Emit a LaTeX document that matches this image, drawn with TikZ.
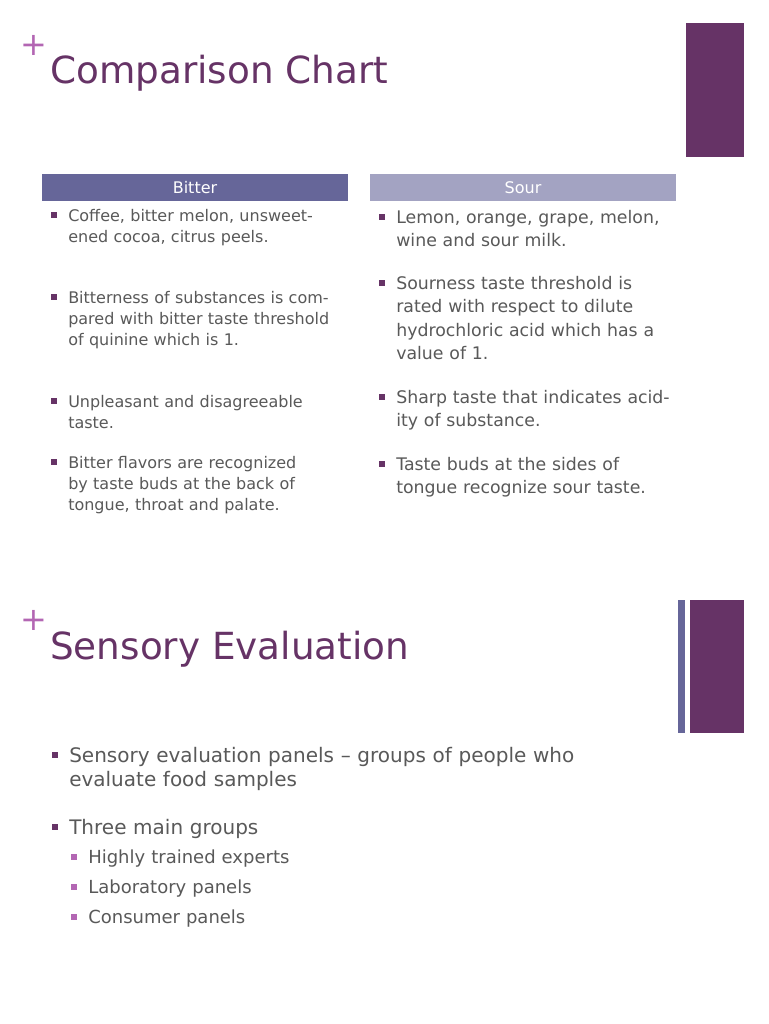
\documentclass[tikz,border=0pt]{standalone}
\usepackage{fontspec}
\setmainfont{DejaVu Sans}
\usetikzlibrary{calc,positioning}
\definecolor{plum}{HTML}{663366}
\definecolor{slate}{HTML}{666699}
\definecolor{lilac}{HTML}{A3A3C2}
\definecolor{orchid}{HTML}{B366B3}
\definecolor{txt}{HTML}{595959}
\tikzset{
	x=0.75pt, y=-0.75pt,
	title/.style={anchor=base west, inner sep=0, text=plum, font=\fontsize{28}{32}\selectfont},
	plus/.style={anchor=center, inner sep=0, text=orchid, font=\fontsize{24}{24}\selectfont},
	head/.style={minimum width=230pt, minimum height=20pt, inner sep=0, text=white, font=\fontsize{12}{14}\selectfont},
	itemA/.style={anchor=north west, inner sep=0, align=left, text=txt, text width=200pt, font=\fontsize{12}{15.75}\selectfont},
	itemB/.style={anchor=north west, inner sep=0, align=left, text=txt, text width=210pt, font=\fontsize{13}{17.6}\selectfont},
	itemC/.style={anchor=north west, inner sep=0, align=left, text=txt, text width=420pt, font=\fontsize{15}{18}\selectfont},
	itemD/.style={anchor=north west, inner sep=0, align=left, text=txt, text width=300pt, font=\fontsize{13.5}{18}\selectfont},
	bulsq/.style={fill=plum, inner sep=0, minimum size=5pt},
	subsq/.style={fill=orchid, inner sep=0, minimum size=5pt},
}
\begin{document}
\begin{tikzpicture}
	\useasboundingbox[fill=white] (0,0) rectangle (768,1024);
	% first slide
	\node[plus] (p1) at (34,45) {+};
	\node[title] (t1) at (50,84) {Comparison Chart};
	\fill[plum] (686,23) rectangle (744,157);
	\node[head, fill=slate] (hb) at (195,187.5) {Bitter};
	\node[head, fill=lilac] (hs) at (523,187.5) {Sour};

	\node[itemA] (b1) at (68,209) {Coffee, bitter melon, unsweetened cocoa, citrus peels.};
	\node[itemA] (b2) at (68,291) {Bitterness of substances is compared with bitter taste threshold of quinine which is 1.};
	\node[itemA] (b3) at (68,395) {Unpleasant and disagreeable taste.};
	\node[itemA] (b4) at (68,456) {Bitter flavors are recognized by taste buds at the back of tongue, throat and palate.};
	\foreach \i in {1,...,4}
		\node[bulsq] at ($(b\i.north west)+(-14,6)$) {};

	\node[itemB] (s1) at (396,210) {Lemon, orange, grape, melon, wine and sour milk.};
	\node[itemB] (s2) at (396,276) {Sourness taste threshold is rated with respect to dilute hydrochloric acid which has a value of 1.};
	\node[itemB] (s3) at (396,390) {Sharp taste that indicates acidity of substance.};
	\node[itemB] (s4) at (396,457) {Taste buds at the sides of tongue recognize sour taste.};
	\foreach \i in {1,...,4}
		\node[bulsq] at ($(s\i.north west)+(-14,7)$) {};

	% second slide
	\node[plus] (p2) at (34,620) {+};
	\node[title] (t2) at (50,659) {Sensory Evaluation};
	\fill[slate] (678,600) rectangle (685,733);
	\fill[plum] (690,600) rectangle (744,733);

	\node[itemC] (e1) at (69,747) {Sensory evaluation panels -- groups of people who evaluate food samples};
	\node[itemC] (e2) at (69,819) {Three main groups};
	\foreach \i in {1,2}
		\node[bulsq] at ($(e\i.north west)+(-14,8)$) {};
	\node[itemD] (g1) at (88,850) {Highly trained experts};
	\node[itemD] (g2) at (88,880) {Laboratory panels};
	\node[itemD] (g3) at (88,910) {Consumer panels};
	\foreach \i in {1,...,3}
		\node[subsq] at ($(g\i.north west)+(-14,7)$) {};
\end{tikzpicture}
\end{document}
